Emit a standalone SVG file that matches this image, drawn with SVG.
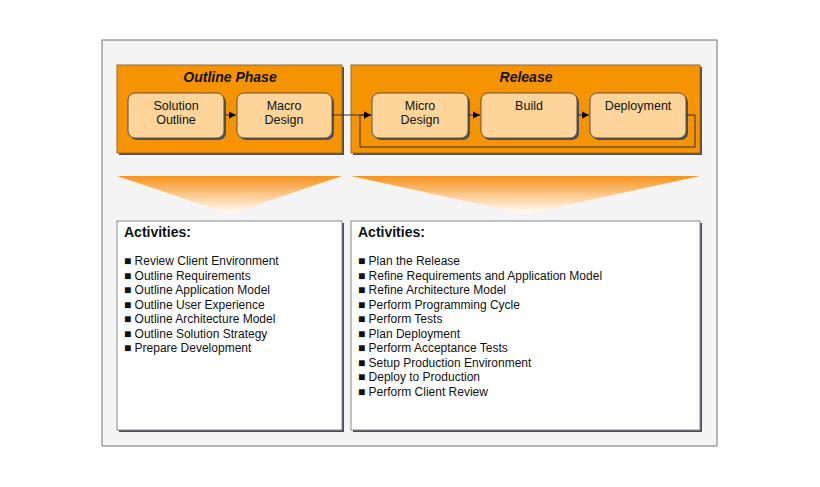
<svg xmlns="http://www.w3.org/2000/svg" width="820" height="487" viewBox="0 0 820 487">
<defs>
<linearGradient id="fan" x1="0" y1="0" x2="0" y2="1">
<stop offset="0" stop-color="#f7931e"/><stop offset="1" stop-color="#ffffff"/>
</linearGradient>
<marker id="ar" markerWidth="8" markerHeight="8" refX="7" refY="4" orient="auto" markerUnits="userSpaceOnUse"><path d="M0,0.5 L7,4 L0,7.5 Z" fill="#000"/></marker>
</defs>
<style>
text{font-family:"Liberation Sans",Arial,sans-serif;fill:#111}
.ph{fill:#f59300;stroke:#9a6a2a;stroke-width:1}
.sh{fill:#4a4f60}
.nd{fill:#fdd49a;stroke:#555;stroke-width:1}
.nt{font-size:12.5px;text-anchor:middle}
.tt{font-size:14px;font-weight:bold;font-style:italic;text-anchor:middle}
.ab{fill:#fff;stroke:#888;stroke-width:1}
.ah{font-size:14px;font-weight:bold}
.li{font-size:12px}
.cn{fill:none;stroke:#333;stroke-width:1}
</style>
<rect width="820" height="487" fill="#fff"/>
<rect x="102" y="40" width="615" height="406" fill="#f4f4f4" stroke="#777" stroke-width="1"/>
<g id="outline-phase">
<rect x="119" y="67" width="225" height="88" class="sh"/>
<rect x="117" y="65" width="225" height="88" class="ph"/>
<text x="230" y="82" class="tt">Outline Phase</text>
</g>
<g id="release">
<rect x="353" y="67" width="349" height="88" class="sh"/>
<rect x="351" y="65" width="349" height="88" class="ph"/>
<text x="526" y="82" class="tt">Release</text>
</g>
<g id="solution-outline">
<rect x="130" y="95" width="96" height="45" rx="7" class="sh"/>
<rect x="128" y="93" width="96" height="45" rx="7" class="nd"/>
<text x="176" y="110" class="nt">Solution</text><text x="176" y="124" class="nt">Outline</text>
</g>
<g id="macro-design">
<rect x="239" y="95" width="95" height="45" rx="7" class="sh"/>
<rect x="237" y="93" width="95" height="45" rx="7" class="nd"/>
<text x="284" y="110" class="nt">Macro</text><text x="284" y="124" class="nt">Design</text>
</g>
<g id="micro-design">
<rect x="374" y="95" width="96" height="45" rx="7" class="sh"/>
<rect x="372" y="93" width="96" height="45" rx="7" class="nd"/>
<text x="420" y="110" class="nt">Micro</text><text x="420" y="124" class="nt">Design</text>
</g>
<g id="build">
<rect x="483" y="95" width="96" height="45" rx="7" class="sh"/>
<rect x="481" y="93" width="96" height="45" rx="7" class="nd"/>
<text x="529" y="110" class="nt">Build</text>
</g>
<g id="deployment">
<rect x="592" y="95" width="96" height="45" rx="7" class="sh"/>
<rect x="590" y="93" width="96" height="45" rx="7" class="nd"/>
<text x="638" y="110" class="nt">Deployment</text>
</g>
<g id="connectors">
<line x1="224" y1="115" x2="236" y2="115" class="cn" marker-end="url(#ar)"/>
<line x1="332" y1="115" x2="371" y2="115" class="cn" marker-end="url(#ar)"/>
<line x1="468" y1="115" x2="480" y2="115" class="cn" marker-end="url(#ar)"/>
<line x1="577" y1="115" x2="589" y2="115" class="cn" marker-end="url(#ar)"/>
<polyline points="686,115 695,115 695,147 360,147 360,115 371,115" class="cn" marker-end="url(#ar)"/>
</g>
<g id="fans">
<polygon points="117,176 342,176 230,214" fill="url(#fan)"/>
<polygon points="351,176 700,176 525,214" fill="url(#fan)"/>
</g>
<g id="activities-outline">
<rect x="119" y="223" width="225" height="209" class="sh"/>
<rect x="117" y="221" width="225" height="209" class="ab"/>
<text x="124" y="237" class="ah">Activities:</text>
<text class="li"><tspan x="124" y="265">■ Review Client Environment</tspan><tspan x="124" y="279.5">■ Outline Requirements</tspan><tspan x="124" y="294">■ Outline Application Model</tspan><tspan x="124" y="308.5">■ Outline User Experience</tspan><tspan x="124" y="323">■ Outline Architecture Model</tspan><tspan x="124" y="337.5">■ Outline Solution Strategy</tspan><tspan x="124" y="352">■ Prepare Development</tspan></text>
</g>
<g id="activities-release">
<rect x="353" y="223" width="349" height="209" class="sh"/>
<rect x="351" y="221" width="349" height="209" class="ab"/>
<text x="358" y="237" class="ah">Activities:</text>
<text class="li"><tspan x="358" y="265">■ Plan the Release</tspan><tspan x="358" y="279.5">■ Refine Requirements and Application Model</tspan><tspan x="358" y="294">■ Refine Architecture Model</tspan><tspan x="358" y="308.5">■ Perform Programming Cycle</tspan><tspan x="358" y="323">■ Perform Tests</tspan><tspan x="358" y="337.5">■ Plan Deployment</tspan><tspan x="358" y="352">■ Perform Acceptance Tests</tspan><tspan x="358" y="366.5">■ Setup Production Environment</tspan><tspan x="358" y="381">■ Deploy to Production</tspan><tspan x="358" y="395.5">■ Perform Client Review</tspan></text>
</g>
</svg>
